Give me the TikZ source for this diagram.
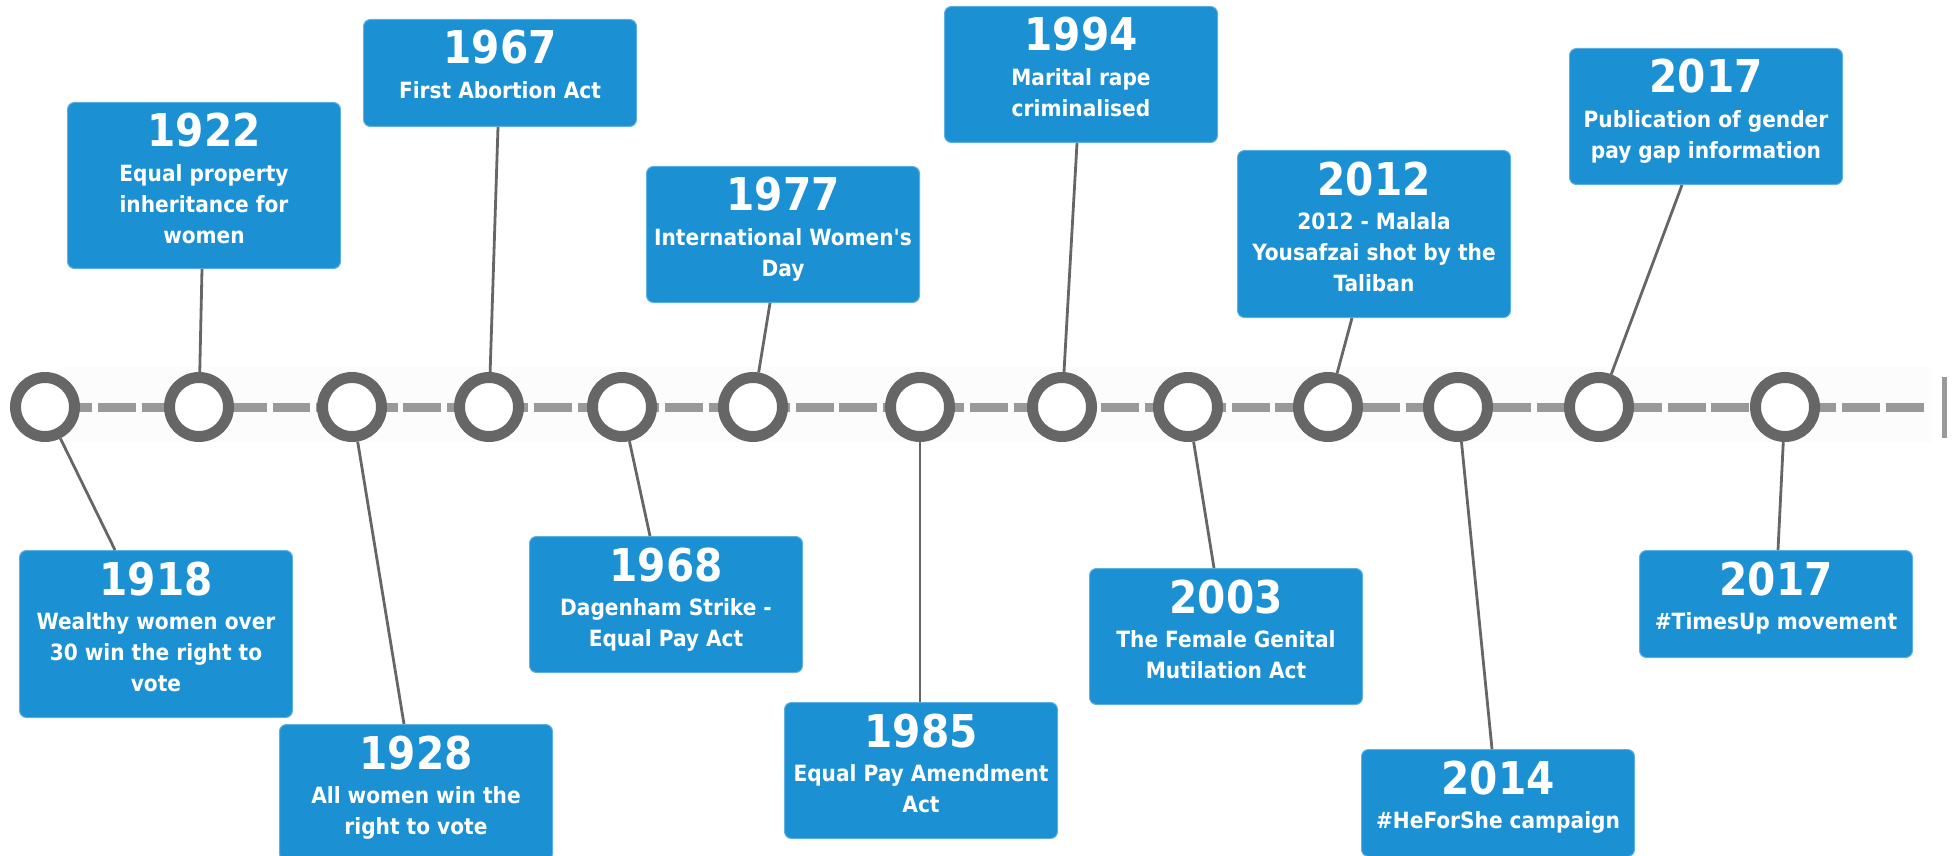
\documentclass[tikz,border=0pt]{standalone}
\usepackage{fontspec}
\usetikzlibrary{calc}
\newfontfamily\evfont{DejaVu Sans Condensed}
\definecolor{boxblue}{RGB}{27,144,210}
\definecolor{boxedge}{RGB}{95,175,225}
\definecolor{ringgray}{RGB}{102,102,102}
\definecolor{linegray}{RGB}{153,153,153}
\definecolor{bandgray}{RGB}{252,252,252}
\newcommand\yearfont{\evfont\bfseries\fontsize{22.6}{26}\selectfont}
\newcommand\bodyfont{\evfont\bfseries\fontsize{11.2}{15.5}\selectfont}
\tikzset{
  evbox/.style={rectangle, rounded corners=3.5pt, fill=boxblue, draw=boxedge, line width=0.5pt, minimum width=136.5pt, inner sep=0pt},
  yeartxt/.style={anchor=base, text=white, font=\yearfont, inner sep=0pt},
  bodytxt/.style={anchor=north, text=white, font=\bodyfont, align=center, inner sep=0pt},
  dot/.style={circle, draw=ringgray, line width=5.5pt, fill=white, minimum size=29.5pt, inner sep=0pt},
  conn/.style={draw=ringgray, line width=1.4pt},
  tline/.style={draw=linegray, line width=4.5pt, dash pattern=on 18.85pt off 2.95pt},
  endbar/.style={draw=linegray, line width=2.5pt}
}
\newcommand\evt[6]{%
  \node[evbox, minimum height=#4*0.5pt, anchor=north west] (#1) at (#2,#3) {};
  \node[yeartxt] (#1y) at ($(#1.north)+(0,45)$) {#5};
  \node[bodytxt] (#1t) at ($(#1.north)+(0,59)$) {\rule{0pt}{10pt}#6};
}
\begin{document}
\begin{tikzpicture}[x=0.5pt, y=-0.5pt]
\useasboundingbox (0,0) rectangle (1955,856);
% faint band behind the timeline
\fill[bandgray] (60,367) rectangle (1932,442);
% timeline
\coordinate (ts) at (11,407);
\coordinate (te) at (1925,407);
\coordinate (bt) at (1944,377);
\coordinate (bb) at (1944,438);
\draw[tline] (ts) -- (te);
\draw[endbar] (bt) -- (bb);
% circles
\foreach \n/\x in {1/45,2/199,3/352,4/489,5/622,6/753,7/920,8/1062,9/1188,10/1328,11/1458,12/1599,13/1785}
  \node[dot] (c\n) at (\x,407) {};
% boxes
\evt{b1918}{19}{550}{167}{1918}{Wealthy women over\\30 win the right to\\vote}
\evt{b1922}{67}{102}{166}{1922}{Equal property\\inheritance for\\women}
\evt{b1928}{279}{724}{136}{1928}{All women win the\\right to vote}
\evt{b1967}{363}{19}{107}{1967}{First Abortion Act}
\evt{b1968}{529}{536}{136}{1968}{Dagenham Strike -\\Equal Pay Act}
\evt{b1977}{646}{166}{136}{1977}{International Women's\\Day}
\evt{b1985}{784}{702}{136}{1985}{Equal Pay Amendment\\Act}
\evt{b1994}{944}{6}{136}{1994}{Marital rape\\criminalised}
\evt{b2003}{1089}{568}{136}{2003}{The Female Genital\\Mutilation Act}
\evt{b2012}{1237}{150}{167}{2012}{2012 - Malala\\Yousafzai shot by the\\Taliban}
\evt{b2014}{1361}{749}{107}{2014}{\#HeForShe campaign}
\evt{b2017a}{1569}{48}{136}{2017}{Publication of gender\\pay gap information}
\evt{b2017b}{1639}{550}{107}{2017}{\#TimesUp movement}
% connectors
\draw[conn] (c1) -- ($(b1918.north west)+(96,0)$);
\draw[conn] (c2) -- ($(b1922.south west)+(135,0)$);
\draw[conn] (c3) -- ($(b1928.north west)+(125,0)$);
\draw[conn] (c4) -- ($(b1967.south west)+(135,0)$);
\draw[conn] (c5) -- ($(b1968.north west)+(121,0)$);
\draw[conn] (c6) -- ($(b1977.south west)+(124,0)$);
\draw[conn] (c7) -- ($(b1985.north west)+(136,0)$);
\draw[conn] (c8) -- ($(b1994.south west)+(133,0)$);
\draw[conn] (c9) -- ($(b2003.north west)+(125,0)$);
\draw[conn] (c10) -- ($(b2012.south west)+(115,0)$);
\draw[conn] (c11) -- ($(b2014.north west)+(131,0)$);
\draw[conn] (c12) -- ($(b2017a.south west)+(113,0)$);
\draw[conn] (c13) -- ($(b2017b.north west)+(139,0)$);
\end{tikzpicture}
\end{document}
